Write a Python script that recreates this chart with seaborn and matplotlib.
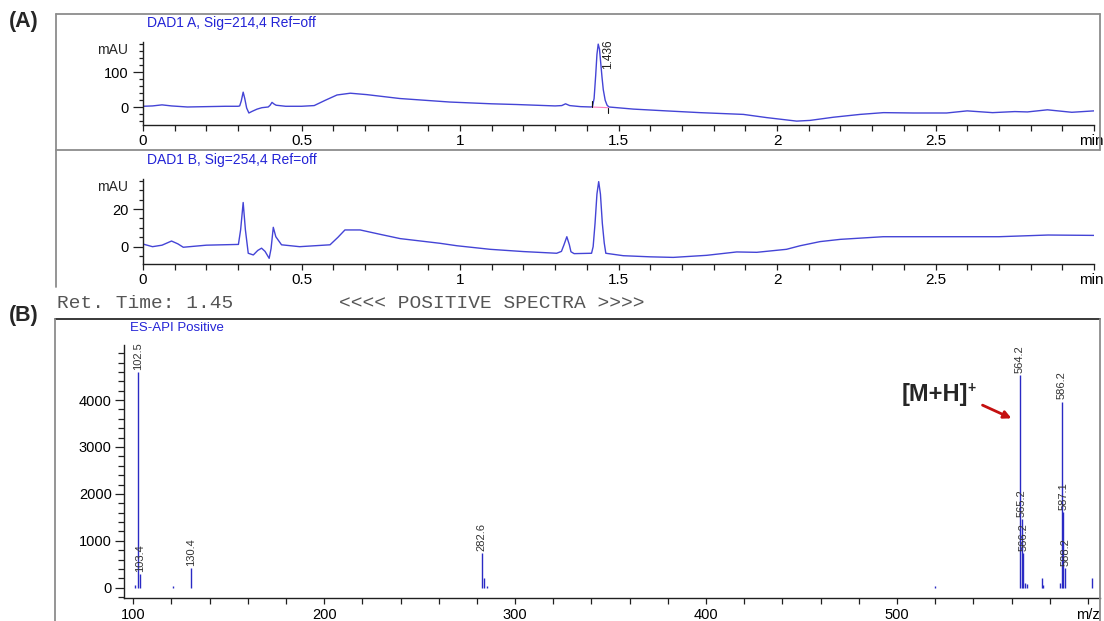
import matplotlib
matplotlib.use("Agg")
import matplotlib.pyplot as plt
from matplotlib.lines import Line2D
from matplotlib.patches import FancyArrowPatch
from matplotlib.ticker import MultipleLocator
from matplotlib.transforms import ScaledTranslation
import pandas as pd
import seaborn as sns

# ---------------- data ----------------
# DAD1 A, 214 nm chromatogram (min, mAU)
time_a = [0.00, 0.03, 0.06, 0.09, 0.14, 0.20, 0.26, 0.300, 0.305, 0.310, 0.316,
          0.321, 0.327, 0.334, 0.345, 0.360, 0.375, 0.395, 0.401, 0.407, 0.414,
          0.420, 0.450, 0.500, 0.540, 0.575, 0.612, 0.654, 0.706, 0.810, 0.968,
          1.100, 1.178, 1.300, 1.321, 1.333, 1.346, 1.380, 1.414, 1.418, 1.423,
          1.428, 1.432, 1.436, 1.440, 1.444, 1.448, 1.452, 1.458, 1.464, 1.470,
          1.547, 1.650, 1.757, 1.894, 1.967, 2.062, 2.104, 2.178, 2.262, 2.336,
          2.430, 2.535, 2.600, 2.680, 2.750, 2.790, 2.853, 2.930, 3.000]
mau_a = [3, 4, 7, 4, 1, 2, 3, 3, 4, 18, 43,
         25, -2, -16, -11, -5, -1, 1, 6, 14, 9,
         6, 3, 3, 5, 20, 35, 40, 36, 25, 15,
         10, 8, 4, 5, 10, 5, 2, 1, 3, 25,
         90, 150, 179, 165, 125, 85, 50, 20, 6, 1,
         -5, -10, -15, -20, -29, -39, -37, -28, -20, -15,
         -16, -16, -10, -15, -12, -13, -7, -14, -10]

# DAD1 B, 254 nm chromatogram (min, mAU)
time_b = [0.00, 0.03, 0.06, 0.09, 0.11, 0.127, 0.20, 0.25, 0.301, 0.308, 0.316,
          0.323, 0.332, 0.348, 0.362, 0.374, 0.385, 0.398, 0.404, 0.411, 0.419,
          0.437, 0.494, 0.590, 0.615, 0.637, 0.685, 0.750, 0.811, 0.937, 0.990,
          1.095, 1.200, 1.305, 1.320, 1.328, 1.337, 1.345, 1.350, 1.360, 1.415,
          1.420, 1.426, 1.432, 1.4375, 1.443, 1.449, 1.455, 1.460, 1.515, 1.600,
          1.673, 1.778, 1.873, 1.936, 2.030, 2.073, 2.136, 2.200, 2.335, 2.490,
          2.700, 2.855, 3.000]
mau_b = [1.4, 0.0, 0.8, 3.0, 1.5, -0.3, 0.8, 1.0, 1.2, 9.0, 23.5,
         9.0, -3.5, -4.4, -2.0, -0.8, -2.5, -6.2, -1.0, 10.3, 5.3,
         1.0, 0.0, 1.0, 5.0, 8.9, 8.9, 6.5, 4.3, 1.8, 0.5,
         -1.4, -2.6, -3.5, -2.5, 1.0, 5.3, 1.0, -2.7, -3.7, -3.5,
         0.0, 12.4, 28.0, 34.6, 28.0, 12.4, 2.0, -3.5, -4.8, -5.4,
         -5.7, -4.6, -2.8, -3.0, -1.4, 0.5, 2.7, 3.9, 5.3, 5.3,
         5.3, 6.2, 6.0]

# integration of the 1.436 min peak (start / end of baseline)
peak_rt = 1.436
integ_time = [1.416, 1.468]
integ_mau = [1, -1]

# ES-API positive mass spectrum at 1.45 min
ms_mz = [100.7, 102.5, 103.4, 121.0, 130.4, 282.6, 283.6, 285.3, 520.0,
         564.2, 565.2, 566.2, 567.2, 568.3, 575.9, 576.5, 585.2,
         586.2, 587.1, 588.2, 602.3]
ms_int = [60, 4600, 300, 40, 420, 740, 200, 30, 30,
          4530, 1460, 735, 100, 80, 210, 60, 100,
          3970, 1620, 415, 200]
ms_label = ["", "102.5", "103.4", "", "130.4", "282.6", "", "", "",
            "564.2", "565.2", "566.2", "", "", "", "", "",
            "586.2", "587.1", "588.2", ""]

rt_ticks = [0, 0.5, 1, 1.5, 2, 2.5, 3]
rt_ticklabels = ["0", "0.5", "1", "1.5", "2", "2.5", "min"]
mz_ticks = [100, 200, 300, 400, 500, 600]
mz_ticklabels = ["100", "200", "300", "400", "500", "m/z"]

# ---------------- style ----------------
sns.set_style("ticks")
plt.rcParams["font.family"] = ["Liberation Sans", "DejaVu Sans"]

W, H = 1104, 621
fig = plt.figure(figsize=(W / 100, H / 100), dpi=100)
fig.patch.set_facecolor("white")


def box(l, t, r, b):
    return [l / W, 1 - b / H, (r - l) / W, (b - t) / H]


def fx(px):
    return px / W


def fy(py):
    return 1 - py / H


def frame_line(x0, y0, x1, y1, color="#8c8c8c", lw=1.3):
    fig.add_artist(Line2D([fx(x0), fx(x1)], [fy(y0), fy(y1)],
                          transform=fig.transFigure, color=color, lw=lw))


TRACE = "#4444d6"
STICK = "#2a2ac4"
TITLE = "#2323d6"


def style_axis(ax):
    sns.despine(ax=ax)
    for s in ("left", "bottom"):
        ax.spines[s].set_color("#202020")
        ax.spines[s].set_linewidth(1.0)
    ax.set_facecolor("none")
    ax.set_xlabel("")
    ax.set_ylabel("")
    ax.grid(False)


def nudge_last_label(ax, dx_px):
    lbl = ax.get_xticklabels()[-1]
    lbl.set_transform(lbl.get_transform()
                      + ScaledTranslation(dx_px / 100, 0, fig.dpi_scale_trans))


# ---------------- (A) chromatograms ----------------
axA1 = fig.add_axes(box(143, 42, 1094, 125))
axA2 = fig.add_axes(box(143, 179, 1094, 263.6))

sns.lineplot(data=pd.DataFrame({"t": time_a, "v": mau_a}), x="t", y="v",
             ax=axA1, color=TRACE, linewidth=1.0, estimator=None, sort=False)
sns.lineplot(data=pd.DataFrame({"t": time_b, "v": mau_b}), x="t", y="v",
             ax=axA2, color=TRACE, linewidth=1.0, estimator=None, sort=False)

# peak integration baseline and markers
axA1.plot(integ_time, integ_mau, color="#ff7fbf", lw=0.8)
axA1.plot([integ_time[0]] * 2, [integ_mau[0], integ_mau[0] + 17], color="#111111", lw=0.8)
axA1.plot([integ_time[1]] * 2, [integ_mau[1] - 14, integ_mau[1]], color="#111111", lw=0.8)
axA1.annotate(f"{peak_rt:.3f}", xy=(peak_rt, max(mau_a)), xytext=(3, 3.5),
              textcoords="offset points", rotation=90, ha="left", va="top",
              fontsize=8.5, color="#222222")

for ax, ylim, major, minor in ((axA1, (-50, 185), [0, 100], 20),
                               (axA2, (-9, 36), [0, 20], 5)):
    style_axis(ax)
    ax.set_xlim(0, 3)
    ax.set_ylim(*ylim)
    ax.set_xticks(rt_ticks, labels=rt_ticklabels)
    ax.xaxis.set_minor_locator(MultipleLocator(0.1))
    ax.set_yticks(major)
    ax.yaxis.set_minor_locator(MultipleLocator(minor))
    ax.tick_params(axis="x", which="both", direction="out", length=4.3,
                   width=0.9, colors="#202020", labelsize=11, pad=2.5,
                   labelcolor="black")
    ax.tick_params(axis="y", which="major", direction="out", length=7.2,
                   width=0.9, colors="#202020", labelsize=10.5, pad=3,
                   labelcolor="black")
    ax.tick_params(axis="y", which="minor", direction="out", length=3.0,
                   width=0.9, colors="#202020")
    nudge_last_label(ax, -3)

axA1.text(-0.0158, 0.904, "mAU", transform=axA1.transAxes, ha="right",
          va="center", fontsize=10)
axA2.text(-0.0158, 0.905, "mAU", transform=axA2.transAxes, ha="right",
          va="center", fontsize=10)

fig.text(fx(147), fy(23), "DAD1 A, Sig=214,4 Ref=off", color=TITLE,
         fontsize=10, va="center", ha="left")
fig.text(fx(147), fy(160), "DAD1 B, Sig=254,4 Ref=off", color=TITLE,
         fontsize=10, va="center", ha="left")

# panel frames
frame_line(56, 14, 1100, 14)
frame_line(56, 14, 56, 287)
frame_line(56, 150, 1100, 150)
frame_line(1100, 14, 1100, 150)

fig.text(fx(9), fy(22), "(A)", fontsize=15.5, fontweight="bold",
         va="center", ha="left")

# ---------------- (B) mass spectrum ----------------
fig.text(fx(57), fy(304), "Ret. Time: 1.45", family="Liberation Mono",
         fontsize=14, color="#555555", va="center", ha="left")
fig.text(fx(339), fy(304), "<<<< POSITIVE SPECTRA >>>>", family="Liberation Mono",
         fontsize=14, color="#555555", va="center", ha="left")
frame_line(55, 319, 1100, 319, color="#2a2a2a", lw=1.3)
frame_line(55, 319, 55, 621)
frame_line(1100, 319, 1100, 621)
fig.text(fx(9), fy(316), "(B)", fontsize=15.5, fontweight="bold",
         va="center", ha="left")
fig.text(fx(130), fy(328), "ES-API Positive", color=TITLE, fontsize=9.5,
         va="center", ha="left")

axB = fig.add_axes(box(124, 345, 1100, 598))
spec = pd.DataFrame({"mz": ms_mz, "intensity": ms_int, "label": ms_label})
axB.vlines(spec["mz"], 0, spec["intensity"], color=STICK, lw=1.0)
for _, row in spec[spec["label"] != ""].iterrows():
    axB.annotate(row["label"], xy=(row["mz"], row["intensity"]),
                 xytext=(0, 1.5), textcoords="offset points", rotation=90,
                 ha="center", va="bottom", fontsize=8, color="#333333")

style_axis(axB)
axB.set_xlim(95.2, 606.3)
axB.set_ylim(-220, 5175)
axB.set_xticks(mz_ticks, labels=mz_ticklabels)
axB.xaxis.set_minor_locator(MultipleLocator(20))
axB.set_yticks([0, 1000, 2000, 3000, 4000])
axB.yaxis.set_minor_locator(MultipleLocator(200))
axB.tick_params(axis="x", which="both", direction="out", length=4.5,
                width=0.9, colors="#202020", labelsize=10.5, pad=3,
                labelcolor="black")
axB.tick_params(axis="y", which="major", direction="out", length=6.5,
                width=0.9, colors="#202020", labelsize=10.5, pad=2.4,
                labelcolor="black")
axB.tick_params(axis="y", which="minor", direction="out", length=4.6,
                width=0.9, colors="#202020")

# molecular ion annotation
fig.text(fx(902), fy(395), "[M+H]", fontsize=17, fontweight="bold",
         va="center", ha="left")
fig.text(fx(967), fy(388), "+", fontsize=10, fontweight="bold",
         va="center", ha="left")
fig.add_artist(FancyArrowPatch((fx(980), fy(404)), (fx(1014), fy(419.5)),
                               transform=fig.transFigure, arrowstyle="-|>",
                               mutation_scale=11, color="#c41010", lw=2.0))

fig.savefig("out.png", dpi=100, facecolor="white")
